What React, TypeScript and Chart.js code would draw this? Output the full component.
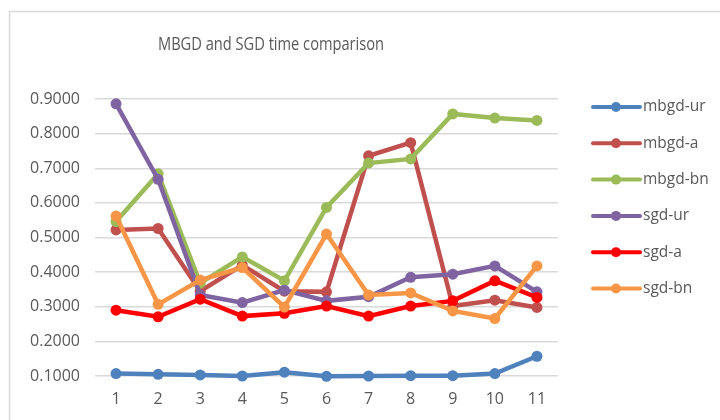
import React, { useEffect, useRef } from "react";
import { Chart, registerables } from "chart.js";

Chart.register(...registerables);

const categories = ["1", "2", "3", "4", "5", "6", "7", "8", "9", "10", "11"];
const seriesNames = ["mbgd-ur", "mbgd-a", "mbgd-bn", "sgd-ur", "sgd-a", "sgd-bn"];
const seriesColors = ["#4F81BD", "#C0504D", "#9BBB59", "#8064A2", "#FF0000", "#F79646"];
const mbgdUr = [0.107, 0.105, 0.103, 0.1, 0.111, 0.099, 0.1, 0.101, 0.101, 0.107, 0.157];
const mbgdA = [0.522, 0.526, 0.345, 0.42, 0.345, 0.343, 0.736, 0.774, 0.302, 0.319, 0.298];
const mbgdBn = [0.546, 0.684, 0.368, 0.444, 0.375, 0.587, 0.715, 0.727, 0.857, 0.845, 0.838];
const sgdUr = [0.886, 0.668, 0.334, 0.312, 0.348, 0.317, 0.329, 0.385, 0.394, 0.418, 0.343];
const sgdA = [0.29, 0.271, 0.322, 0.273, 0.281, 0.302, 0.273, 0.302, 0.317, 0.375, 0.327];
const sgdBn = [0.562, 0.307, 0.377, 0.413, 0.299, 0.51, 0.334, 0.34, 0.288, 0.266, 0.418];
const seriesValues = [mbgdUr, mbgdA, mbgdBn, sgdUr, sgdA, sgdBn];
const titleText = "MBGD and SGD time comparison";
const yMin = 0.1;
const yMax = 0.9;
const yStep = 0.1;

const FONT = "'Open Sans', 'Liberation Sans', sans-serif";
const TEXT = "#595959";
const GRID = "#d9d9d9";

const decorPlugin = {
  id: "decor",
  beforeDraw(chart: any) {
    const ctx = chart.ctx;
    ctx.save();
    ctx.fillStyle = "#ffffff";
    ctx.fillRect(0, 0, chart.width, chart.height);
    ctx.strokeStyle = GRID;
    ctx.lineWidth = 1.5;
    ctx.beginPath();
    ctx.moveTo(9.5, chart.height);
    ctx.lineTo(9.5, 11.5);
    ctx.lineTo(chart.width, 11.5);
    ctx.stroke();
    ctx.restore();
  },
  afterDraw(chart: any) {
    const ctx = chart.ctx;
    ctx.save();
    ctx.fillStyle = TEXT;
    ctx.font = `18px ${FONT}`;
    ctx.textAlign = "center";
    ctx.textBaseline = "middle";
    const w = ctx.measureText(titleText).width;
    const sx = Math.min(1, 226 / w);
    ctx.save();
    ctx.translate(271, 45);
    ctx.scale(sx, 1);
    ctx.fillText(titleText, 0, 0);
    ctx.restore();
    // legend
    ctx.font = `15.5px ${FONT}`;
    ctx.textAlign = "left";
    chart.data.datasets.forEach((ds: any, i: number) => {
      const y = 107 + i * 36.3;
      ctx.strokeStyle = ds.borderColor;
      ctx.lineWidth = 4;
      ctx.lineCap = "round";
      ctx.beginPath();
      ctx.moveTo(593, y);
      ctx.lineTo(640, y);
      ctx.stroke();
      ctx.fillStyle = ds.borderColor;
      ctx.beginPath();
      ctx.arc(616, y, 5, 0, Math.PI * 2);
      ctx.fill();
      ctx.fillStyle = TEXT;
      ctx.fillText(ds.label, 643, y);
    });
    ctx.restore();
  },
};

export default function App() {
  const ref = useRef<HTMLCanvasElement | null>(null);
  useEffect(() => {
    if (!ref.current) return;
    const chart = new Chart(ref.current, {
      type: "line",
      data: {
        labels: categories,
        datasets: seriesNames.map((name, i) => ({
          label: name,
          data: seriesValues[i],
          borderColor: seriesColors[i],
          backgroundColor: seriesColors[i],
          pointBackgroundColor: seriesColors[i],
          pointBorderColor: seriesColors[i],
          borderWidth: 4.5,
          pointRadius: 5.5,
          pointBorderWidth: 0,
          tension: 0,
          clip: false,
          order: -i,
        })),
      },
      options: {
        animation: false,
        responsive: false,
        devicePixelRatio: 1,
        layout: { padding: { left: 0, right: 162, top: 99, bottom: 0 } },
        plugins: {
          legend: { display: false },
          title: { display: false },
          tooltip: { enabled: false },
        },
        scales: {
          x: {
            offset: true,
            grid: { display: false, drawTicks: false },
            border: { display: false },
            ticks: { color: TEXT, font: { family: FONT, size: 16 }, padding: 14, maxRotation: 0 },
            afterFit(scale: any) {
              scale.height = 44;
            },
          },
          y: {
            min: yMin,
            max: yMax,
            grid: { color: GRID, lineWidth: 1.5, drawTicks: false },
            border: { display: false },
            ticks: {
              stepSize: yStep,
              color: TEXT,
              font: { family: FONT, size: 16 },
              padding: 15,
              callback: (v: any) => Number(v).toFixed(4),
            },
            afterFit(scale: any) {
              scale.width = 95;
            },
          },
        },
      },
      plugins: [decorPlugin],
    });
    return () => chart.destroy();
  }, []);
  return (
    <div style={{ position: "absolute", left: 0, top: 0, width: 720, height: 420, background: "#fff" }}>
      <canvas ref={ref} width={720} height={420} style={{ width: 720, height: 420 }} />
    </div>
  );
}
